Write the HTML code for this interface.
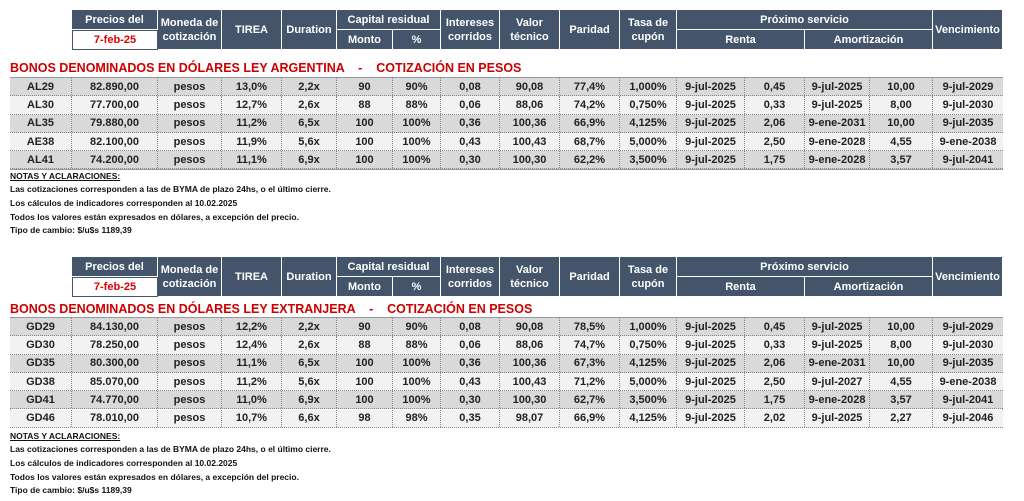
<!DOCTYPE html>
<html><head><meta charset="utf-8">
<style>
body{margin:0;width:1024px;height:501px;background:#fff;position:relative;overflow:hidden;font-family:"Liberation Sans",Arial,sans-serif;font-weight:bold;color:#222}
.hd{position:absolute;background:#44546a;color:#fff;font-size:11px;display:flex;align-items:center;justify-content:center;text-align:center;line-height:14px;box-sizing:border-box;border-right:1px solid #fff;border-bottom:1px solid #fff}
.date{position:absolute;background:#fff;color:#d00;font-size:11px;display:flex;align-items:center;justify-content:center;box-sizing:border-box;border:1px solid #44546a}
.title{position:absolute;left:10px;color:#c00;font-size:12.5px;white-space:pre}
.row{position:absolute;left:10px;width:993px;box-sizing:border-box;border-bottom:1px dotted #888}
.cell{position:absolute;top:0;height:100%;display:flex;align-items:center;justify-content:center;font-size:11px;box-sizing:border-box;border-right:1px dotted #888}
.note{position:absolute;left:10px;font-size:8.5px;color:#111}
.tbl{position:absolute;left:10px;width:993px;box-sizing:border-box;border:1px solid #999}
</style></head><body>
<script>
const colX=[10,72,158,222,282,337,393,441,500,560,620,677,745,805,870,933,1003];
const t1Tickers=["AL29","AL30","AL35","AE38","AL41"];
const t1Rows=[
["82.890,00","pesos","13,0%","2,2x","90","90%","0,08","90,08","77,4%","1,000%","9-jul-2025","0,45","9-jul-2025","10,00","9-jul-2029"],
["77.700,00","pesos","12,7%","2,6x","88","88%","0,06","88,06","74,2%","0,750%","9-jul-2025","0,33","9-jul-2025","8,00","9-jul-2030"],
["79.880,00","pesos","11,2%","6,5x","100","100%","0,36","100,36","66,9%","4,125%","9-jul-2025","2,06","9-ene-2031","10,00","9-jul-2035"],
["82.100,00","pesos","11,9%","5,6x","100","100%","0,43","100,43","68,7%","5,000%","9-jul-2025","2,50","9-ene-2028","4,55","9-ene-2038"],
["74.200,00","pesos","11,1%","6,9x","100","100%","0,30","100,30","62,2%","3,500%","9-jul-2025","1,75","9-ene-2028","3,57","9-jul-2041"]];
const t2Tickers=["GD29","GD30","GD35","GD38","GD41","GD46"];
const t2Rows=[
["84.130,00","pesos","12,2%","2,2x","90","90%","0,08","90,08","78,5%","1,000%","9-jul-2025","0,45","9-jul-2025","10,00","9-jul-2029"],
["78.250,00","pesos","12,4%","2,6x","88","88%","0,06","88,06","74,7%","0,750%","9-jul-2025","0,33","9-jul-2025","8,00","9-jul-2030"],
["80.300,00","pesos","11,1%","6,5x","100","100%","0,36","100,36","67,3%","4,125%","9-jul-2025","2,06","9-ene-2031","10,00","9-jul-2035"],
["85.070,00","pesos","11,2%","5,6x","100","100%","0,43","100,43","71,2%","5,000%","9-jul-2025","2,50","9-jul-2027","4,55","9-ene-2038"],
["74.770,00","pesos","11,0%","6,9x","100","100%","0,30","100,30","62,7%","3,500%","9-jul-2025","1,75","9-ene-2028","3,57","9-jul-2041"],
["78.010,00","pesos","10,7%","6,6x","98","98%","0,35","98,07","66,9%","4,125%","9-jul-2025","2,02","9-jul-2025","2,27","9-jul-2046"]];
const notes=["NOTAS Y ACLARACIONES:","Las cotizaciones corresponden a las de BYMA de plazo 24hs, o el último cierre.","Los cálculos de indicadores corresponden al 10.02.2025","Todos los valores están expresados en dólares, a excepción del precio.","Tipo de cambio: $/u$s 1189,39"];

function hd(txt,x1,x2,y,h,name){
  const d=document.createElement('div');d.className='hd';
  
  
  d.style.left=x1+'px';d.style.width=(x2-x1)+'px';d.style.top=y+'px';d.style.height=h+'px';
  d.innerHTML=txt;document.body.appendChild(d);
}
function header(y,id){
  const H=40,h=20;
  hd('Precios del',colX[1],colX[2],y,h,id+'-precios-header');
  const dt=document.createElement('div');dt.className='date';
  
  
  dt.style.left=colX[1]+'px';dt.style.width=(colX[2]-colX[1])+'px';dt.style.top=(y+h)+'px';dt.style.height=h+'px';
  dt.textContent='7-feb-25';document.body.appendChild(dt);
  hd('Moneda de<br>cotización',colX[2],colX[3],y,H,id+'-moneda-header');
  hd('TIREA',colX[3],colX[4],y,H,id+'-tirea-header');
  hd('Duration',colX[4],colX[5],y,H,id+'-duration-header');
  hd('Capital residual',colX[5],colX[7],y,h,id+'-capital-header');
  hd('Monto',colX[5],colX[6],y+h,h,id+'-monto-header');
  hd('%',colX[6],colX[7],y+h,h,id+'-pct-header');
  hd('Intereses<br>corridos',colX[7],colX[8],y,H,id+'-intereses-header');
  hd('Valor<br>técnico',colX[8],colX[9],y,H,id+'-valor-header');
  hd('Paridad',colX[9],colX[10],y,H,id+'-paridad-header');
  hd('Tasa de<br>cupón',colX[10],colX[11],y,H,id+'-tasa-header');
  hd('Próximo servicio',colX[11],colX[15],y,h,id+'-proximo-header');
  hd('Renta',colX[11],colX[13],y+h,h,id+'-renta-header');
  hd('Amortización',colX[13],colX[15],y+h,h,id+'-amort-header');
  hd('Vencimiento',colX[15],colX[16],y,H,id+'-venc-header');
}
function table(y,tickers,rows,id){
  const rh=18.3;
  const tb=document.createElement('div');tb.className='tbl';
  
  
  tb.style.top=y+'px';tb.style.height=(rh*rows.length+1)+'px';document.body.appendChild(tb);
  rows.forEach((r,i)=>{
    const rw=document.createElement('div');rw.className='row';
    
    
    rw.style.top=(y+1+i*rh)+'px';rw.style.height=rh+'px';
    rw.style.background=i%2?'#f2f2f2':'#d9d9d9';
    const vals=[tickers[i]].concat(r);
    vals.forEach((v,j)=>{
      const c=document.createElement('div');c.className='cell';
      
      
      c.style.left=(colX[j]-10)+'px';c.style.width=(colX[j+1]-colX[j])+'px';
      if(j==vals.length-1)c.style.borderRight='none';
      c.textContent=v;rw.appendChild(c);
    });
    document.body.appendChild(rw);
  });
}
function title(y,txt,id){
  const d=document.createElement('div');d.className='title';
  
  
  d.style.top=y+'px';d.textContent=txt;document.body.appendChild(d);
}
function noteBlock(y,id){
  const ys=[0,13,27,41,54];
  notes.forEach((n,i)=>{
    const d=document.createElement('div');d.className='note';
    
    
    d.style.top=(y+ys[i])+'px';d.textContent=n;
    if(i==0)d.style.textDecoration='underline';
    document.body.appendChild(d);
  });
}
header(10,'t1');
title(61,'BONOS DENOMINADOS EN DÓLARES LEY ARGENTINA    -    COTIZACIÓN EN PESOS','t1');
table(77,t1Tickers,t1Rows,'t1');
noteBlock(171,'t1');
header(257,'t2');
title(302,'BONOS DENOMINADOS EN DÓLARES LEY EXTRANJERA    -    COTIZACIÓN EN PESOS','t2');
table(317,t2Tickers,t2Rows,'t2');
noteBlock(431,'t2');
</script>
</body></html>
